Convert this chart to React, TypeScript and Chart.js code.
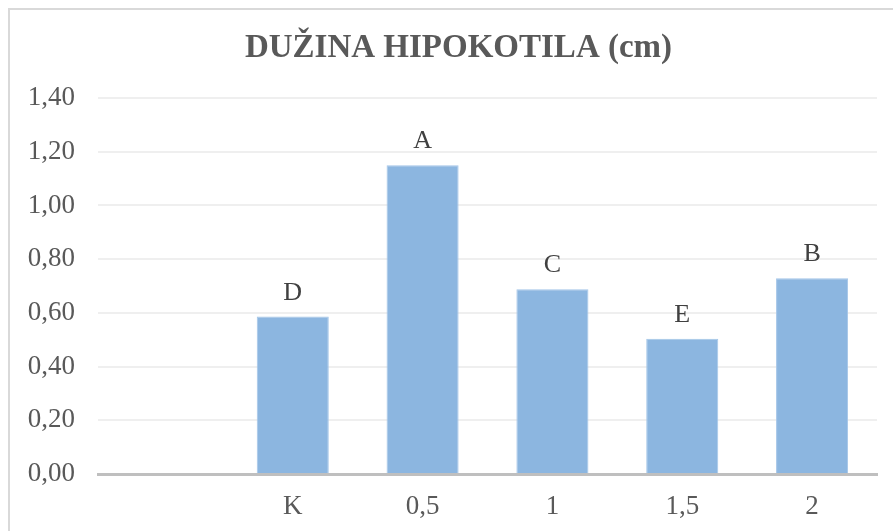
import React, { useEffect, useRef } from "react";
import { Chart, registerables } from "chart.js";

Chart.register(...registerables);

const categories: string[] = ["", "K", "0,5", "1", "1,5", "2"];
const values: (number | null)[] = [null, 0.586, 1.15, 0.688, 0.504, 0.729];
const letters: string[] = ["", "D", "A", "C", "E", "B"];
const yTicks: number[] = [0, 0.2, 0.4, 0.6, 0.8, 1.0, 1.2, 1.4];
const titleText = "DUŽINA HIPOKOTILA (cm)";

const SERIF = "'Liberation Serif', 'Times New Roman', serif";

const letterPlugin = {
  id: "letterLabels",
  afterDatasetsDraw(chart: any) {
    const ctx = chart.ctx;
    const meta = chart.getDatasetMeta(0);
    ctx.save();
    ctx.font = `26px ${SERIF}`;
    ctx.fillStyle = "#404040";
    ctx.textAlign = "center";
    ctx.textBaseline = "alphabetic";
    meta.data.forEach((bar: any, i: number) => {
      if (values[i] == null || !letters[i]) return;
      ctx.fillText(letters[i], bar.x, bar.y - 17);
    });
    ctx.restore();
  },
};

export default function App() {
  const ref = useRef<HTMLCanvasElement | null>(null);

  useEffect(() => {
    if (!ref.current) return;
    const chart = new Chart(ref.current, {
      type: "bar",
      data: {
        labels: categories,
        datasets: [
          {
            data: values,
            backgroundColor: "#8cb6e0",
            borderColor: "#a3c5e8",
            borderWidth: 1,
            categoryPercentage: 1,
            barPercentage: 0.555,
          },
        ],
      },
      options: {
        responsive: false,
        animation: false,
        layout: { padding: { left: 0, right: 0, top: 0, bottom: 0 } },
        plugins: {
          legend: { display: false },
          tooltip: { enabled: false },
          title: {
            display: true,
            text: titleText,
            color: "#595959",
            font: { family: SERIF, size: 33, weight: "bold" },
            padding: { top: 28.5, bottom: 29.9 },
          },
        },
        scales: {
          x: {
            grid: { display: false, drawTicks: false },
            border: { display: true, color: "#bfbfbf", width: 3 },
            ticks: {
              color: "#595959",
              font: { family: SERIF, size: 27 },
              padding: 17,
              maxRotation: 0,
            },
            afterFit(scale: any) {
              scale.height = 57;
            },
          },
          y: {
            min: 0,
            max: 1.4,
            afterBuildTicks(scale: any) {
              scale.ticks = yTicks.map((v) => ({ value: v }));
            },
            grid: { color: "#efefef", lineWidth: 2, drawTicks: false },
            border: { display: false },
            ticks: {
              color: "#595959",
              font: { family: SERIF, size: 27 },
              padding: 23,
              callback: (v: any) => Number(v).toFixed(2).replace(".", ","),
            },
            afterFit(scale: any) {
              scale.width = 98;
            },
          },
          spacer: {
            type: "linear",
            position: "right",
            display: true,
            grid: { display: false, drawTicks: false },
            border: { display: false },
            ticks: { display: false },
            afterFit(scale: any) {
              scale.width = 40;
            },
          },
        },
      },
      plugins: [letterPlugin],
    });
    return () => chart.destroy();
  }, []);

  return (
    <div
      style={{
        position: "fixed",
        left: 0,
        top: 0,
        width: 893,
        height: 531,
        overflow: "hidden",
        background: "#ffffff",
      }}
    >
      <div
        style={{
          position: "absolute",
          left: 8,
          top: 8,
          width: 920,
          height: 560,
          border: "2px solid #d9d9d9",
          boxSizing: "border-box",
        }}
      />
      <canvas
        ref={ref}
        width={917}
        height={531}
        style={{ position: "absolute", left: 0, top: 0, width: 917, height: 531 }}
      />
    </div>
  );
}
